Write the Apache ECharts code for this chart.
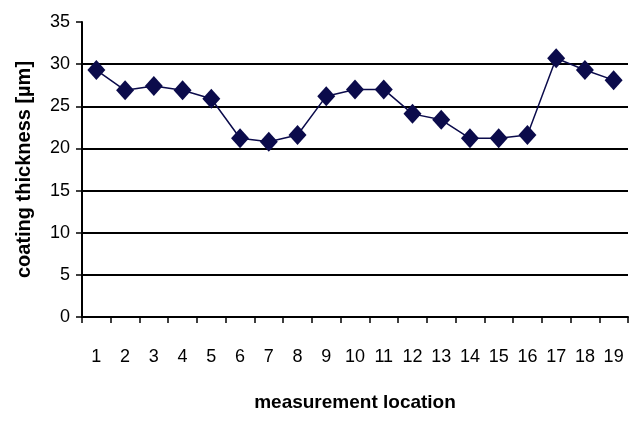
<!DOCTYPE html>
<html><head><meta charset="utf-8">
<script src="https://cdn.jsdelivr.net/npm/echarts@6/dist/echarts.min.js"></script>
<style>html,body{margin:0;padding:0;background:#fff}#c{width:638px;height:422px}</style>
</head><body><div id="c"></div>
<script>
const categories = ['1','2','3','4','5','6','7','8','9','10','11','12','13','14','15','16','17','18','19'];
const thickness = [29.3, 26.9, 27.4, 26.9, 25.9, 21.2, 20.8, 21.6, 26.2, 27.0, 27.0, 24.1, 23.4, 21.2, 21.2, 21.6, 30.7, 29.3, 28.1];
const yTicks = {min: 0, max: 35, interval: 5};

const chart = echarts.init(document.getElementById('c'));
const font = 'Liberation Sans, Arial, sans-serif';
chart.setOption({
  animation: false,
  backgroundColor: '#fff',
  grid: {left: 82, right: 10, top: 22, bottom: 105},
  xAxis: {
    type: 'category', data: categories, boundaryGap: true,
    name: 'measurement location', nameLocation: 'middle', nameGap: 76,
    nameTextStyle: {fontFamily: font, fontSize: 19, fontWeight: 'bold', color: '#000'},
    axisLine: {lineStyle: {color: '#000', width: 2}},
    axisTick: {show: true, length: 6, lineStyle: {color: '#000', width: 1.5}},
    axisLabel: {fontFamily: font, fontSize: 18, color: '#000', margin: 31, interval: 0}
  },
  yAxis: {
    type: 'value', min: yTicks.min, max: yTicks.max, interval: yTicks.interval,
    name: 'coating thickness [µm]', nameLocation: 'middle', nameGap: 48,
    nameTextStyle: {fontFamily: font, fontSize: 20, fontWeight: 'bold', color: '#000'},
    axisLine: {show: true, lineStyle: {color: '#000', width: 2}},
    axisTick: {show: true, length: 6, lineStyle: {color: '#000', width: 1.5}},
    axisLabel: {fontFamily: font, fontSize: 18, color: '#000', margin: 12},
    splitLine: {show: true, lineStyle: {color: ['#000','#000','#000','#000','#000','#000','#000','rgba(0,0,0,0)'], width: 2}}
  },
  series: [{
    type: 'line', data: thickness,
    symbol: 'diamond', symbolSize: [18, 20],
    itemStyle: {color: '#0b0b4b'},
    lineStyle: {color: '#0b0b4b', width: 1.5}
  }]
});
</script></body></html>
